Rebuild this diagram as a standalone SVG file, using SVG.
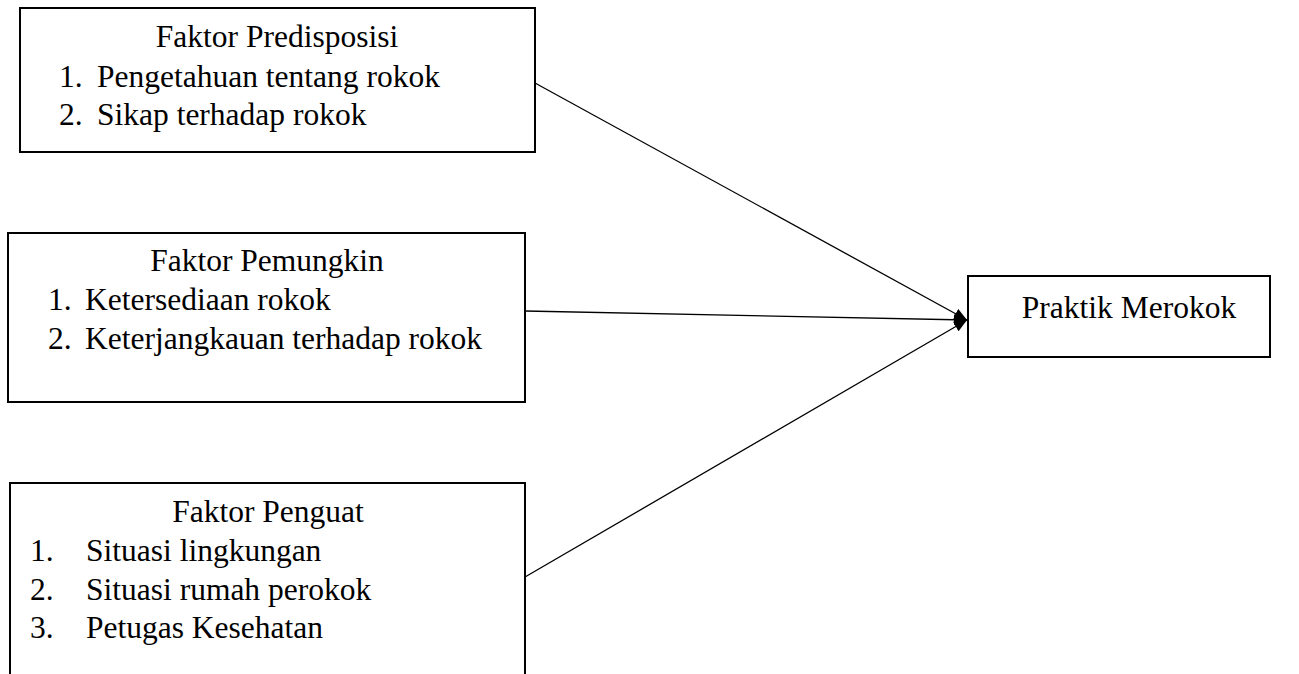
<svg xmlns="http://www.w3.org/2000/svg" width="1299" height="674" viewBox="0 0 1299 674">
<defs>
<style>
.box{fill:#fff;stroke:#000;stroke-width:2}
.t{font-family:"Liberation Serif","Times New Roman",serif;font-size:31.5px;fill:#000}
.c{stroke:#000;stroke-width:1.3;fill:none}
</style>
<marker id="arr" markerWidth="13" markerHeight="11" refX="13" refY="5.5" orient="auto" markerUnits="userSpaceOnUse">
<path d="M0,0 L13,5.5 L0,11 Z" fill="#000"/>
</marker>
</defs>
<rect width="1299" height="674" fill="#fff"/>
<g id="connectors">
<line class="c" x1="535" y1="83" x2="967" y2="320" marker-end="url(#arr)"/>
<line class="c" x1="525" y1="311" x2="967" y2="320" marker-end="url(#arr)"/>
<line class="c" x1="525" y1="577" x2="967" y2="320" marker-end="url(#arr)"/>
</g>
<g id="predisposisi">
<rect class="box" x="20" y="8" width="515" height="144"/>
<text class="t" x="277" y="47" text-anchor="middle">Faktor Predisposisi</text>
<text class="t" x="59" y="87">1.</text><text class="t" x="97" y="87">Pengetahuan tentang rokok</text>
<text class="t" x="59" y="125">2.</text><text class="t" x="97" y="125">Sikap terhadap rokok</text>
</g>
<g id="pemungkin">
<rect class="box" x="8" y="233" width="517" height="169"/>
<text class="t" x="267" y="271" text-anchor="middle">Faktor Pemungkin</text>
<text class="t" x="48" y="310">1.</text><text class="t" x="85" y="310">Ketersediaan rokok</text>
<text class="t" x="48" y="349">2.</text><text class="t" x="85" y="349">Keterjangkauan terhadap rokok</text>
</g>
<g id="penguat">
<rect class="box" x="10" y="483" width="515" height="200"/>
<text class="t" x="268" y="522" text-anchor="middle">Faktor Penguat</text>
<text class="t" x="30" y="561">1.</text><text class="t" x="86" y="561">Situasi lingkungan</text>
<text class="t" x="30" y="600">2.</text><text class="t" x="86" y="600">Situasi rumah perokok</text>
<text class="t" x="30" y="638">3.</text><text class="t" x="86" y="638">Petugas Kesehatan</text>
</g>
<g id="praktik">
<rect class="box" x="968" y="276" width="302" height="81"/>
<text class="t" x="1129" y="318" text-anchor="middle">Praktik Merokok</text>
</g>
</svg>
